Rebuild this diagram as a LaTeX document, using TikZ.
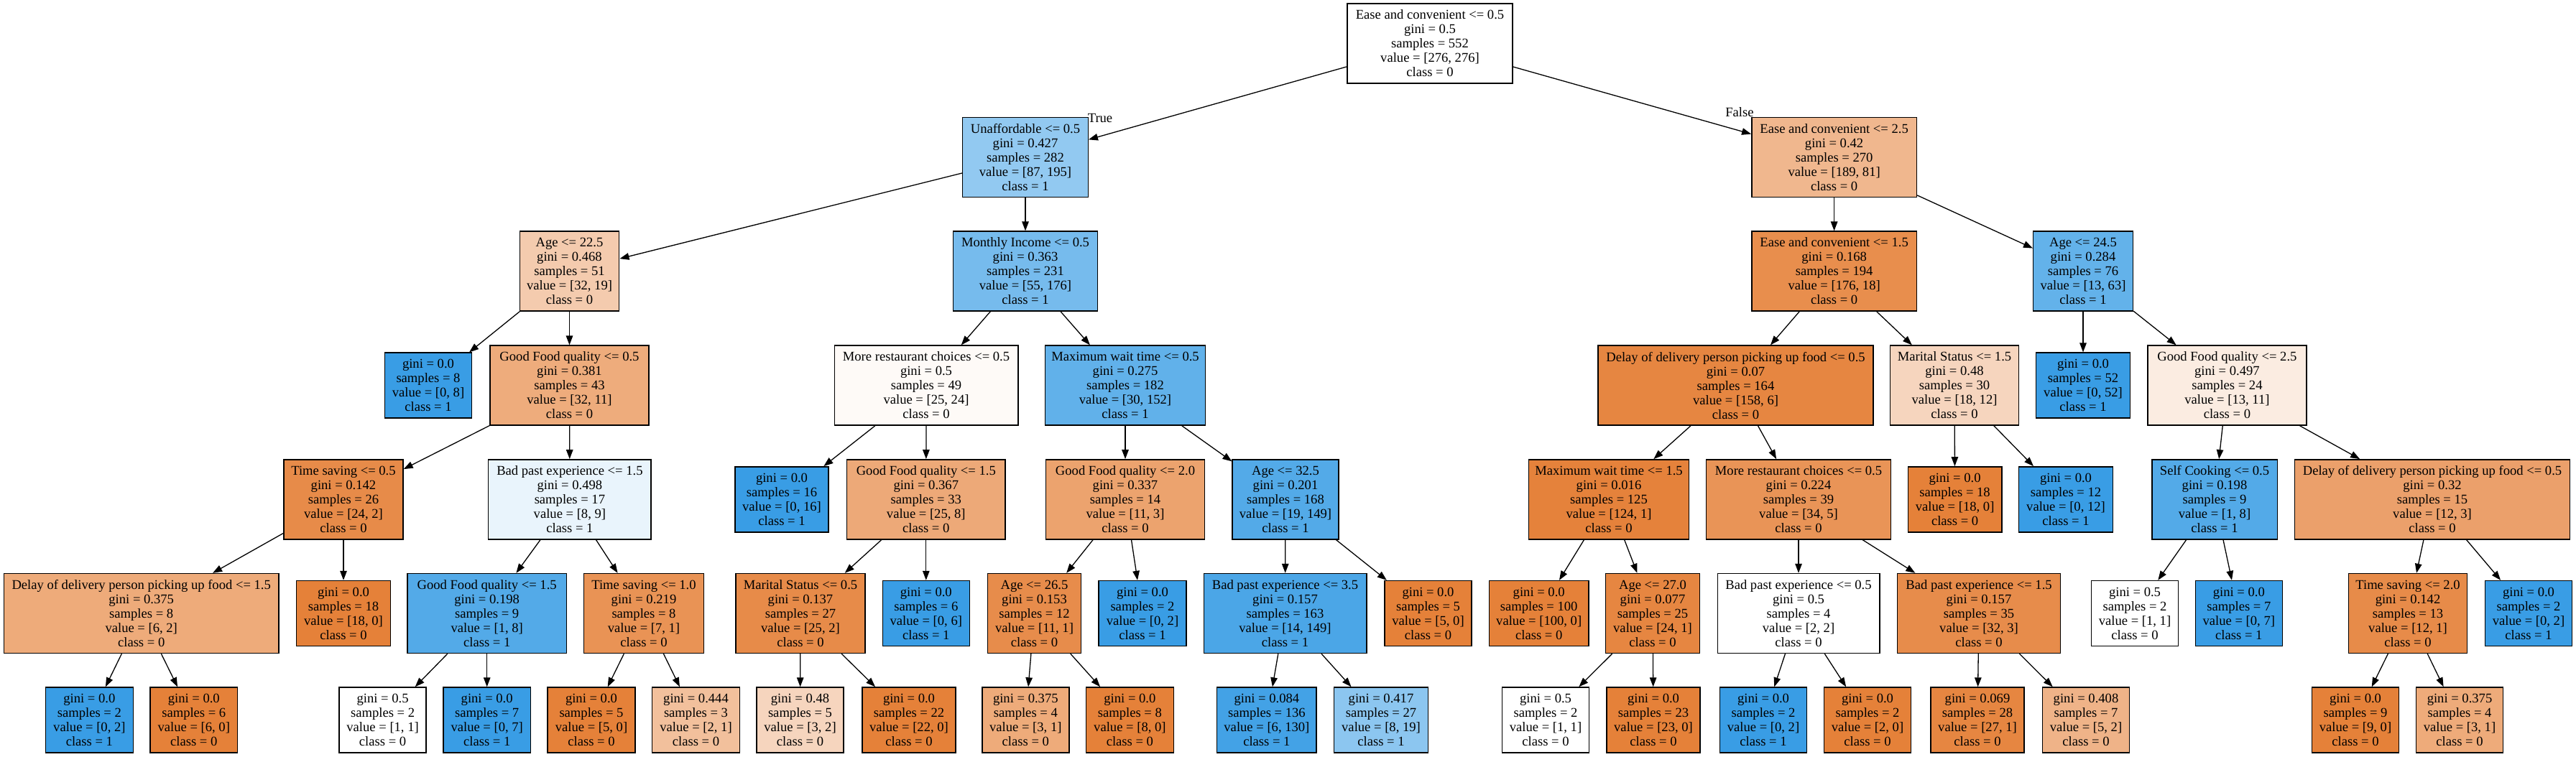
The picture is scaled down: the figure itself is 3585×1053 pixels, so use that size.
\documentclass[tikz,border=0pt]{standalone}
\usepackage{fontspec}
\setmainfont{Liberation Serif}
\usetikzlibrary{arrows.meta}
\definecolor{cz}{RGB}{229,129,57}
\definecolor{co}{RGB}{57,157,229}
\newcommand{\treefont}{\fontsize{18.6}{20}\selectfont}
\begin{document}
\begin{tikzpicture}[x=1pt,y=-1pt,
  tnode/.style={draw=black, line width=1.4pt, minimum height=111pt, inner sep=0pt, align=center, font=\treefont},
  leaf/.style={tnode, minimum height=91pt},
  edge/.style={draw=black, line width=1.3pt, -{Triangle[length=13pt,width=9.5pt]}},
  elabel/.style={font=\treefont, inner sep=0pt}]
\useasboundingbox[fill=white] (0,0) rectangle (3585,1053);
% level 0
\node[tnode, fill=white, minimum width=230pt] (n0) at (1990,60.5) {Ease and convenient <= 0.5\\gini = 0.5\\samples = 552\\value = [276, 276]\\class = 0};
% level 1
\node[tnode, fill=co!55!white, minimum width=174.5pt] (n1) at (1427,219) {Unaffordable <= 0.5\\gini = 0.427\\samples = 282\\value = [87, 195]\\class = 1};
\node[tnode, fill=cz!57!white, minimum width=229.6pt] (n2) at (2552.6,219) {Ease and convenient <= 2.5\\gini = 0.42\\samples = 270\\value = [189, 81]\\class = 0};
% level 2
\node[tnode, fill=cz!41!white, minimum width=138.5pt] (n3) at (792.5,377.6) {Age <= 22.5\\gini = 0.468\\samples = 51\\value = [32, 19]\\class = 0};
\node[tnode, fill=co!69!white, minimum width=200.5pt] (n4) at (1427,377.6) {Monthly Income <= 0.5\\gini = 0.363\\samples = 231\\value = [55, 176]\\class = 1};
\node[tnode, fill=cz!90!white, minimum width=229.6pt] (n5) at (2552.6,377.6) {Ease and convenient <= 1.5\\gini = 0.168\\samples = 194\\value = [176, 18]\\class = 0};
\node[tnode, fill=co!79!white, minimum width=138.6pt] (n6) at (2899,377.6) {Age <= 24.5\\gini = 0.284\\samples = 76\\value = [13, 63]\\class = 1};
% level 3
\node[leaf, fill=co, minimum width=121pt] (n7) at (596,536.6) {gini = 0.0\\samples = 8\\value = [0, 8]\\class = 1};
\node[tnode, fill=cz!66!white, minimum width=221.2pt] (n8) at (792.5,536.6) {Good Food quality <= 0.5\\gini = 0.381\\samples = 43\\value = [32, 11]\\class = 0};
\node[tnode, fill=cz!4!white, minimum width=255.6pt] (n9) at (1289,536.6) {More restaurant choices <= 0.5\\gini = 0.5\\samples = 49\\value = [25, 24]\\class = 0};
\node[tnode, fill=co!80!white, minimum width=222.7pt] (n10) at (1566,536.6) {Maximum wait time <= 0.5\\gini = 0.275\\samples = 182\\value = [30, 152]\\class = 1};
\node[tnode, fill=cz!96!white, minimum width=383pt] (n11) at (2415.5,536.6) {Delay of delivery person picking up food <= 0.5\\gini = 0.07\\samples = 164\\value = [158, 6]\\class = 0};
\node[tnode, fill=cz!33!white, minimum width=179pt] (n12) at (2720,536.6) {Marital Status <= 1.5\\gini = 0.48\\samples = 30\\value = [18, 12]\\class = 0};
\node[leaf, fill=co, minimum width=130.8pt] (n13) at (2899,536.6) {gini = 0.0\\samples = 52\\value = [0, 52]\\class = 1};
\node[tnode, fill=cz!15!white, minimum width=221.2pt] (n14) at (3099.4,536.6) {Good Food quality <= 2.5\\gini = 0.497\\samples = 24\\value = [13, 11]\\class = 0};
% level 4
\node[tnode, fill=cz!92!white, minimum width=166pt] (n15) at (478,695.3) {Time saving <= 0.5\\gini = 0.142\\samples = 26\\value = [24, 2]\\class = 0};
\node[tnode, fill=co!11!white, minimum width=226.5pt] (n16) at (792.9,695.3) {Bad past experience <= 1.5\\gini = 0.498\\samples = 17\\value = [8, 9]\\class = 1};
\node[leaf, fill=co, minimum width=130pt] (n17) at (1088,695.3) {gini = 0.0\\samples = 16\\value = [0, 16]\\class = 1};
\node[tnode, fill=cz!68!white, minimum width=220.5pt] (n18) at (1288.8,695.3) {Good Food quality <= 1.5\\gini = 0.367\\samples = 33\\value = [25, 8]\\class = 0};
\node[tnode, fill=cz!73!white, minimum width=221.2pt] (n19) at (1566,695.3) {Good Food quality <= 2.0\\gini = 0.337\\samples = 14\\value = [11, 3]\\class = 0};
\node[tnode, fill=co!87!white, minimum width=147.7pt] (n20) at (1789,695.3) {Age <= 32.5\\gini = 0.201\\samples = 168\\value = [19, 149]\\class = 1};
\node[tnode, fill=cz!99!white, minimum width=222.7pt] (n21) at (2239,695.3) {Maximum wait time <= 1.5\\gini = 0.016\\samples = 125\\value = [124, 1]\\class = 0};
\node[tnode, fill=cz!85!white, minimum width=256.7pt] (n22) at (2503,695.3) {More restaurant choices <= 0.5\\gini = 0.224\\samples = 39\\value = [34, 5]\\class = 0};
\node[leaf, fill=cz, minimum width=130.8pt] (n23) at (2720.6,695.3) {gini = 0.0\\samples = 18\\value = [18, 0]\\class = 0};
\node[leaf, fill=co, minimum width=130.9pt] (n24) at (2875,695.3) {gini = 0.0\\samples = 12\\value = [0, 12]\\class = 1};
\node[tnode, fill=co!87!white, minimum width=174.4pt] (n25) at (3082,695.3) {Self Cooking <= 0.5\\gini = 0.198\\samples = 9\\value = [1, 8]\\class = 1};
\node[tnode, fill=cz!75!white, minimum width=383.4pt] (n26) at (3385,695.3) {Delay of delivery person picking up food <= 0.5\\gini = 0.32\\samples = 15\\value = [12, 3]\\class = 0};
% level 5
\node[tnode, fill=cz!67!white, minimum width=382.6pt] (n27) at (196.7,854) {Delay of delivery person picking up food <= 1.5\\gini = 0.375\\samples = 8\\value = [6, 2]\\class = 0};
\node[leaf, fill=cz, minimum width=130.9pt] (n28) at (478,854) {gini = 0.0\\samples = 18\\value = [18, 0]\\class = 0};
\node[tnode, fill=co!87!white, minimum width=221.3pt] (n29) at (677.7,854) {Good Food quality <= 1.5\\gini = 0.198\\samples = 9\\value = [1, 8]\\class = 1};
\node[tnode, fill=cz!86!white, minimum width=167pt] (n30) at (896,854) {Time saving <= 1.0\\gini = 0.219\\samples = 8\\value = [7, 1]\\class = 0};
\node[tnode, fill=cz!92!white, minimum width=180pt] (n31) at (1114,854) {Marital Status <= 0.5\\gini = 0.137\\samples = 27\\value = [25, 2]\\class = 0};
\node[leaf, fill=co, minimum width=121pt] (n32) at (1288.8,854) {gini = 0.0\\samples = 6\\value = [0, 6]\\class = 1};
\node[tnode, fill=cz!91!white, minimum width=130pt] (n33) at (1439.5,854) {Age <= 26.5\\gini = 0.153\\samples = 12\\value = [11, 1]\\class = 0};
\node[leaf, fill=co, minimum width=121.8pt] (n34) at (1590,854) {gini = 0.0\\samples = 2\\value = [0, 2]\\class = 1};
\node[tnode, fill=co!91!white, minimum width=226.6pt] (n35) at (1788.5,854) {Bad past experience <= 3.5\\gini = 0.157\\samples = 163\\value = [14, 149]\\class = 1};
\node[leaf, fill=cz, minimum width=121pt] (n36) at (1987.5,854) {gini = 0.0\\samples = 5\\value = [5, 0]\\class = 0};
\node[leaf, fill=cz, minimum width=138.6pt] (n37) at (2141.7,854) {gini = 0.0\\samples = 100\\value = [100, 0]\\class = 0};
\node[tnode, fill=cz!96!white, minimum width=130.9pt] (n38) at (2300,854) {Age <= 27.0\\gini = 0.077\\samples = 25\\value = [24, 1]\\class = 0};
\node[tnode, fill=white, minimum width=225.6pt] (n39) at (2503,854) {Bad past experience <= 0.5\\gini = 0.5\\samples = 4\\value = [2, 2]\\class = 0};
\node[tnode, fill=cz!91!white, minimum width=226.5pt] (n40) at (2754,854) {Bad past experience <= 1.5\\gini = 0.157\\samples = 35\\value = [32, 3]\\class = 0};
\node[leaf, fill=white, minimum width=121pt] (n41) at (2971,854) {gini = 0.5\\samples = 2\\value = [1, 1]\\class = 0};
\node[leaf, fill=co, minimum width=121pt] (n42) at (3115.8,854) {gini = 0.0\\samples = 7\\value = [0, 7]\\class = 1};
\node[tnode, fill=cz!92!white, minimum width=165.3pt] (n43) at (3351,854) {Time saving <= 2.0\\gini = 0.142\\samples = 13\\value = [12, 1]\\class = 0};
\node[leaf, fill=co, minimum width=121pt] (n44) at (3519,854) {gini = 0.0\\samples = 2\\value = [0, 2]\\class = 1};
% level 6
\node[leaf, fill=co, minimum width=121.7pt] (n45) at (124.4,1002.5) {gini = 0.0\\samples = 2\\value = [0, 2]\\class = 1};
\node[leaf, fill=cz, minimum width=121.7pt] (n46) at (269.8,1002.5) {gini = 0.0\\samples = 6\\value = [6, 0]\\class = 0};
\node[leaf, fill=white, minimum width=121pt] (n47) at (532.6,1002.5) {gini = 0.5\\samples = 2\\value = [1, 1]\\class = 0};
\node[leaf, fill=co, minimum width=121.7pt] (n48) at (677.7,1002.5) {gini = 0.0\\samples = 7\\value = [0, 7]\\class = 1};
\node[leaf, fill=cz, minimum width=121.7pt] (n49) at (823,1002.5) {gini = 0.0\\samples = 5\\value = [5, 0]\\class = 0};
\node[leaf, fill=cz!50!white, minimum width=121.7pt] (n50) at (968.5,1002.5) {gini = 0.444\\samples = 3\\value = [2, 1]\\class = 0};
\node[leaf, fill=cz!33!white, minimum width=121pt] (n51) at (1113.5,1002.5) {gini = 0.48\\samples = 5\\value = [3, 2]\\class = 0};
\node[leaf, fill=cz, minimum width=130pt] (n52) at (1265,1002.5) {gini = 0.0\\samples = 22\\value = [22, 0]\\class = 0};
\node[leaf, fill=cz!67!white, minimum width=121pt] (n53) at (1427.3,1002.5) {gini = 0.375\\samples = 4\\value = [3, 1]\\class = 0};
\node[leaf, fill=cz, minimum width=121.7pt] (n54) at (1572.4,1002.5) {gini = 0.0\\samples = 8\\value = [8, 0]\\class = 0};
\node[leaf, fill=co!95!white, minimum width=138.5pt] (n55) at (1762.9,1002.5) {gini = 0.084\\samples = 136\\value = [6, 130]\\class = 1};
\node[leaf, fill=co!58!white, minimum width=130.9pt] (n56) at (1922,1002.5) {gini = 0.417\\samples = 27\\value = [8, 19]\\class = 1};
\node[leaf, fill=white, minimum width=121pt] (n57) at (2151,1002.5) {gini = 0.5\\samples = 2\\value = [1, 1]\\class = 0};
\node[leaf, fill=cz, minimum width=130pt] (n58) at (2301,1002.5) {gini = 0.0\\samples = 23\\value = [23, 0]\\class = 0};
\node[leaf, fill=co, minimum width=121pt] (n59) at (2454,1002.5) {gini = 0.0\\samples = 2\\value = [0, 2]\\class = 1};
\node[leaf, fill=cz, minimum width=121pt] (n60) at (2599,1002.5) {gini = 0.0\\samples = 2\\value = [2, 0]\\class = 0};
\node[leaf, fill=cz!96!white, minimum width=130pt] (n61) at (2752,1002.5) {gini = 0.069\\samples = 28\\value = [27, 1]\\class = 0};
\node[leaf, fill=cz!60!white, minimum width=121pt] (n62) at (2903,1002.5) {gini = 0.408\\samples = 7\\value = [5, 2]\\class = 0};
\node[leaf, fill=cz, minimum width=121pt] (n63) at (3278,1002.5) {gini = 0.0\\samples = 9\\value = [9, 0]\\class = 0};
\node[leaf, fill=cz!67!white, minimum width=121pt] (n64) at (3423,1002.5) {gini = 0.375\\samples = 4\\value = [3, 1]\\class = 0};
% edge labels
\node[elabel] (lt) at (1531,164) {True};
\node[elabel] (lf) at (2421,156) {False};
% edges
\foreach \p/\c in {n0/n1,n0/n2,n1/n3,n1/n4,n2/n5,n2/n6,n3/n7,n3/n8,n4/n9,n4/n10,n5/n11,n5/n12,n6/n13,n6/n14,
  n8/n15,n8/n16,n9/n17,n9/n18,n10/n19,n10/n20,n11/n21,n11/n22,n12/n23,n12/n24,n14/n25,n14/n26,
  n15/n27,n15/n28,n16/n29,n16/n30,n18/n31,n18/n32,n19/n33,n19/n34,n20/n35,n20/n36,n21/n37,n21/n38,
  n22/n39,n22/n40,n25/n41,n25/n42,n26/n43,n26/n44,
  n27/n45,n27/n46,n29/n47,n29/n48,n30/n49,n30/n50,n31/n51,n31/n52,n33/n53,n33/n54,n35/n55,n35/n56,
  n38/n57,n38/n58,n39/n59,n39/n60,n40/n61,n40/n62,n43/n63,n43/n64}
  {\draw[edge] (\p) -- (\c);}
\end{tikzpicture}
\end{document}
